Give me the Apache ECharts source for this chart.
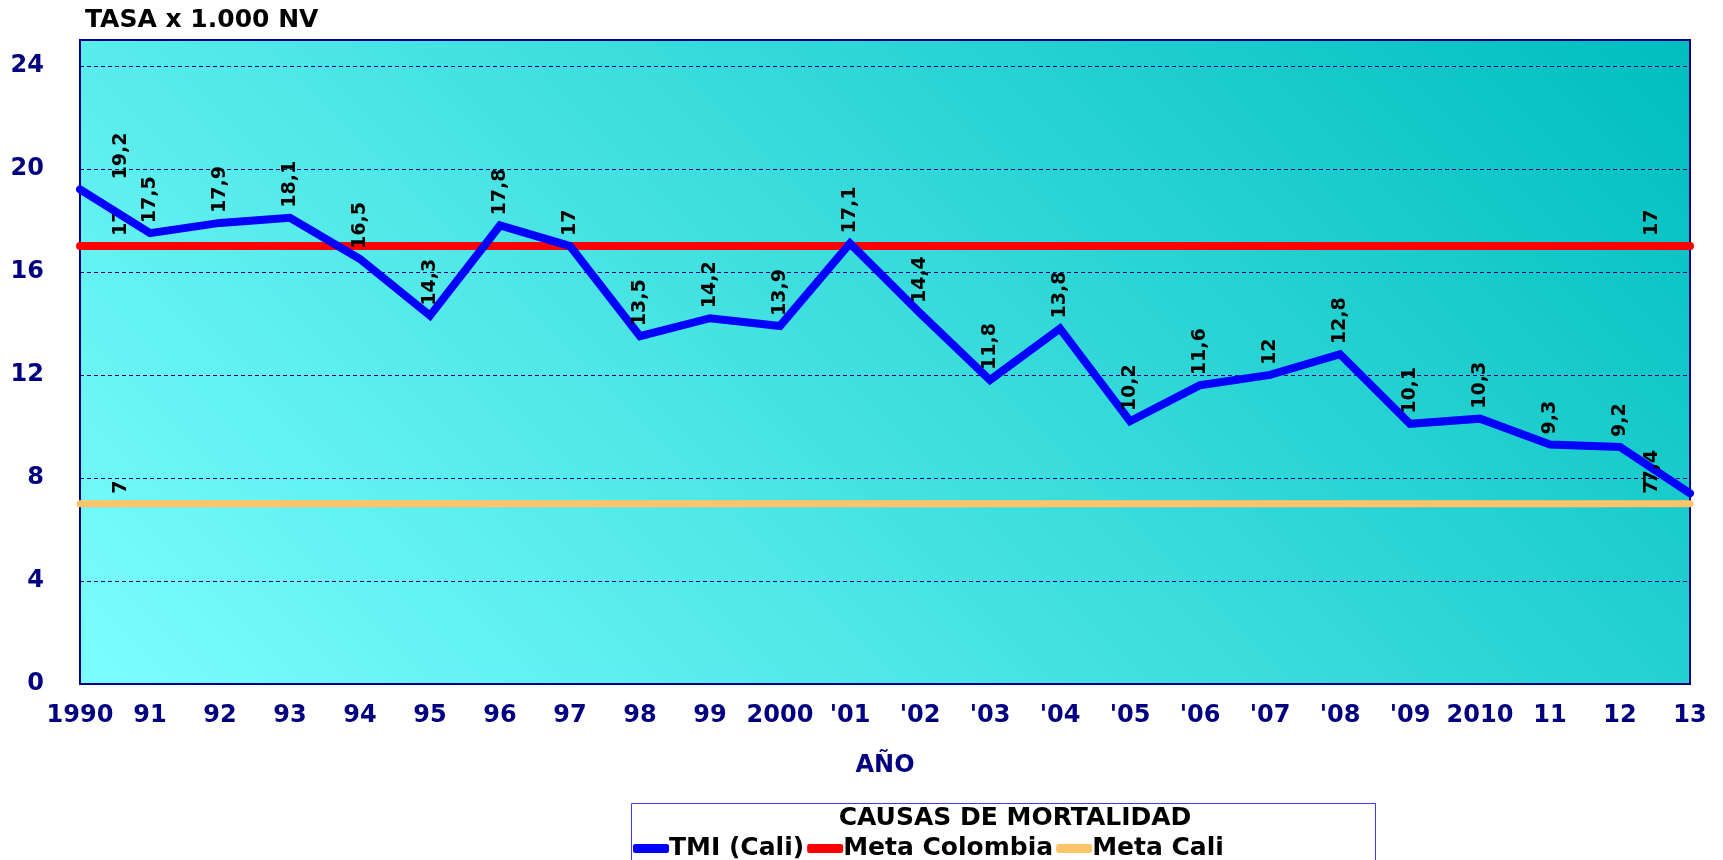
<!DOCTYPE html>
<html>
<head>
<meta charset="utf-8">
<script src="https://cdn.jsdelivr.net/npm/echarts@6/dist/echarts.min.js"></script>
<style>
  html, body { margin: 0; padding: 0; background: #fff; }
  #chart { width: 1723px; height: 860px; }
</style>
</head>
<body>
<div id="chart"></div>
<script>
// años 1990 - 2013
var years = ['1990', '91', '92', '93', '94', '95', '96', '97', '98', '99', '2000', "'01",
  "'02", "'03", "'04", "'05", "'06", "'07", "'08", "'09", '2010', '11', '12', '13']
var tmiCali = [19.2, 17.5, 17.9, 18.1, 16.5, 14.3, 17.8, 17, 13.5, 14.2, 13.9, 17.1,
  14.4, 11.8, 13.8, 10.2, 11.6, 12, 12.8, 10.1, 10.3, 9.3, 9.2, 7.4]
var metaColombia = [17, 17, 17, 17, 17, 17, 17, 17, 17, 17, 17, 17,
  17, 17, 17, 17, 17, 17, 17, 17, 17, 17, 17, 17]
var metaCali = [7, 7, 7, 7, 7, 7, 7, 7, 7, 7, 7, 7,
  7, 7, 7, 7, 7, 7, 7, 7, 7, 7, 7, 7]
var yTicks = [0, 4, 8, 12, 16, 20, 24]

var last = years.length - 1
var navy = '#000080'

function fmt (v) {
  return String(v).replace('.', ',')
}

// etiquetas verticales sobre cada punto
function dataLabel (onlyEnds) {
  return {
    show: true,
    rotate: 90,
    position: 'top',
    distance: 10,
    align: 'left',
    verticalAlign: 'middle',
    color: '#000',
    fontFamily: 'DejaVu Sans',
    fontWeight: 'bold',
    fontSize: 19,
    formatter: function (p) {
      if (onlyEnds && p.dataIndex !== 0 && p.dataIndex !== last) return ''
      return fmt(p.value)
    }
  }
}

// mover las etiquetas de los extremos hacia adentro
// (el texto va girado 90°, así que dy lo mueve en horizontal)
function edgeLayout (p) {
  if (p.dataIndex === 0) return { dy: 41 }
  if (p.dataIndex === last) return { dy: -38 }
  return {}
}

var chart = echarts.init(document.getElementById('chart'))
chart.setOption({
  animation: false,
  title: [
    {
      text: 'TASA x 1.000 NV',
      left: 80,
      top: 3,
      textStyle: { color: '#000', fontFamily: 'DejaVu Sans', fontWeight: 'bold', fontSize: 25 }
    },
    {
      text: 'CAUSAS DE MORTALIDAD',
      left: 1015,
      top: 806,
      textAlign: 'center',
      padding: 0,
      textStyle: { color: '#000', fontFamily: 'DejaVu Sans', fontWeight: 'bold', fontSize: 25 }
    }
  ],
  graphic: [
    {
      type: 'rect',
      z: -1,
      shape: { x: 631.5, y: 803.5, width: 744, height: 80 },
      style: { fill: '#fff', stroke: '#3a3aff', lineWidth: 1 }
    }
  ],
  legend: {
    data: ['TMI (Cali)', 'Meta Colombia', 'Meta Cali'],
    left: 633,
    top: 836,
    padding: 0,
    icon: 'roundRect',
    itemWidth: 36,
    itemHeight: 9,
    itemGap: 3,
    textStyle: {
      color: '#000',
      fontFamily: 'DejaVu Sans',
      fontWeight: 'bold',
      fontSize: 25,
      padding: [0, 0, 0, -5]
    }
  },
  grid: {
    left: 80,
    right: 33,
    top: 40,
    bottom: 176,
    show: true,
    borderColor: navy,
    borderWidth: 2,
    // degradado diagonal, claro abajo-izquierda, oscuro arriba-derecha
    backgroundColor: new echarts.graphic.LinearGradient(80, 684, 1207, -443, [
      { offset: 0, color: '#7cfefe' },
      { offset: 1, color: '#00bebe' }
    ], true)
  },
  xAxis: {
    type: 'category',
    data: years,
    boundaryGap: false,
    name: 'AÑO',
    nameLocation: 'middle',
    nameGap: 70,
    nameTextStyle: { color: navy, fontFamily: 'DejaVu Sans', fontWeight: 'bold', fontSize: 24 },
    axisLine: { lineStyle: { color: navy, width: 2 } },
    axisTick: { show: false },
    axisLabel: {
      color: navy,
      fontFamily: 'DejaVu Sans',
      fontWeight: 'bold',
      fontSize: 24,
      margin: 20,
      interval: 0
    }
  },
  yAxis: {
    type: 'value',
    min: yTicks[0],
    max: 25,
    interval: yTicks[1] - yTicks[0],
    axisLine: { show: true, lineStyle: { color: navy, width: 2 } },
    axisTick: { show: false },
    axisLabel: {
      color: navy,
      fontFamily: 'DejaVu Sans',
      fontWeight: 'bold',
      fontSize: 24,
      margin: 36,
      showMaxLabel: false
    },
    splitLine: { lineStyle: { color: navy, width: 1, type: [4, 3] } }
  },
  series: [
    {
      name: 'TMI (Cali)',
      type: 'line',
      data: tmiCali,
      z: 4,
      symbol: 'circle',
      symbolSize: 0,
      showSymbol: true,
      color: '#0000ff',
      lineStyle: { color: '#0000ff', width: 8, cap: 'round', join: 'miter' },
      label: dataLabel(false),
      labelLayout: edgeLayout
    },
    {
      name: 'Meta Colombia',
      type: 'line',
      data: metaColombia,
      z: 3,
      symbol: 'circle',
      symbolSize: 0,
      showSymbol: true,
      color: '#ff0000',
      lineStyle: { color: '#ff0000', width: 8, cap: 'round' },
      label: dataLabel(true),
      labelLayout: edgeLayout
    },
    {
      name: 'Meta Cali',
      type: 'line',
      data: metaCali,
      z: 3,
      symbol: 'circle',
      symbolSize: 0,
      showSymbol: true,
      color: '#ffc469',
      lineStyle: { color: '#ffc469', width: 7, cap: 'round' },
      label: dataLabel(true),
      labelLayout: edgeLayout
    }
  ]
})
window.addEventListener('resize', function () { chart.resize() })
</script>
</body>
</html>
